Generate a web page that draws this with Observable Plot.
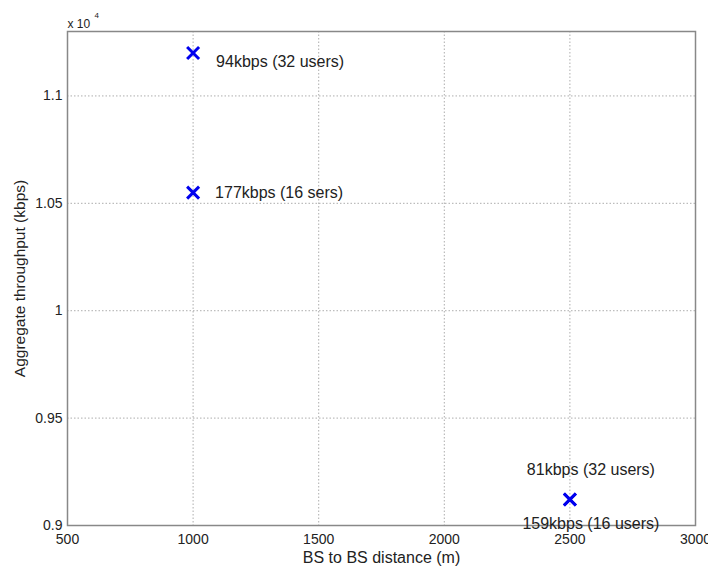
<!DOCTYPE html>
<html><head><meta charset="utf-8">
<script src="https://cdn.jsdelivr.net/npm/d3@7"></script>
<script src="https://cdn.jsdelivr.net/npm/@observablehq/plot@0.6"></script>
<style>body{margin:0;background:#fff;} svg{display:block;}</style>
</head><body><div id="chart"></div>
<script>
const distance = [1000, 1000, 2500, 2500];
const throughput = [11200, 10550, 9121, 9121];
const labels = ["94kbps (32 users)", "177kbps (16 sers)", "81kbps (32 users)", "159kbps (16 users)"];
const xTicks = [500, 1000, 1500, 2000, 2500, 3000];
const yTicks = [9000, 9500, 10000, 10500, 11000];
const xLabel = "BS to BS distance (m)";
const yLabel = "Aggregate throughput (kbps)";

const pts = distance.map((d, i) => ({x: d, y: throughput[i], label: labels[i]}));
const font = "'Liberation Sans', Arial, Helvetica, sans-serif";

const chart = Plot.plot({
  width: 708, height: 573,
  marginLeft: 67, marginRight: 13, marginTop: 31, marginBottom: 48,
  style: {fontFamily: font, fontSize: "14px", color: "#222", background: "#fff"},
  x: {domain: [500, 3000], ticks: xTicks},
  y: {domain: [9000, 11300], ticks: yTicks},
  marks: [
    Plot.gridX(xTicks, {stroke: "#999", strokeOpacity: 0.8, strokeDasharray: "1.5,2"}),
    Plot.gridY(yTicks, {stroke: "#999", strokeOpacity: 0.8, strokeDasharray: "1.5,2"}),
    Plot.frame({stroke: "#888", strokeWidth: 1.5}),
    Plot.axisX(xTicks, {tickSize: 0, tickPadding: 9, label: null, fontSize: 14, tickFormat: d => String(d)}),
    Plot.axisY(yTicks, {tickSize: 0, tickPadding: 5, label: null, fontSize: 14, tickFormat: d => String(d / 1e4)}),
    Plot.text([xLabel], {frameAnchor: "bottom", dy: 37, fontSize: 16}),
    Plot.text([yLabel], {frameAnchor: "left", textAnchor: "middle", dx: -47, rotate: -90, fontSize: 15.5}),
    Plot.text(["x 10"], {frameAnchor: "top-left", textAnchor: "start", dy: -12, fontSize: 12}),
    Plot.text(["4"], {frameAnchor: "top-left", textAnchor: "start", dx: 27, dy: -19, fontSize: 8}),
    Plot.dot(pts, {x: "x", y: "y", symbol: "times", r: 5.5, stroke: "#0000ee", strokeWidth: 3}),
    Plot.text([pts[0]], {x: "x", y: "y", text: "label", textAnchor: "start", dx: 23, dy: 9, fontSize: 16}),
    Plot.text([pts[1]], {x: "x", y: "y", text: "label", textAnchor: "start", dx: 22, dy: 0, fontSize: 16}),
    Plot.text([pts[2]], {x: "x", y: "y", text: "label", dx: 21, dy: -30, fontSize: 16}),
    Plot.text([pts[3]], {x: "x", y: "y", text: "label", dx: 21, dy: 24, fontSize: 16})
  ]
});
document.getElementById("chart").appendChild(chart);
</script></body></html>
